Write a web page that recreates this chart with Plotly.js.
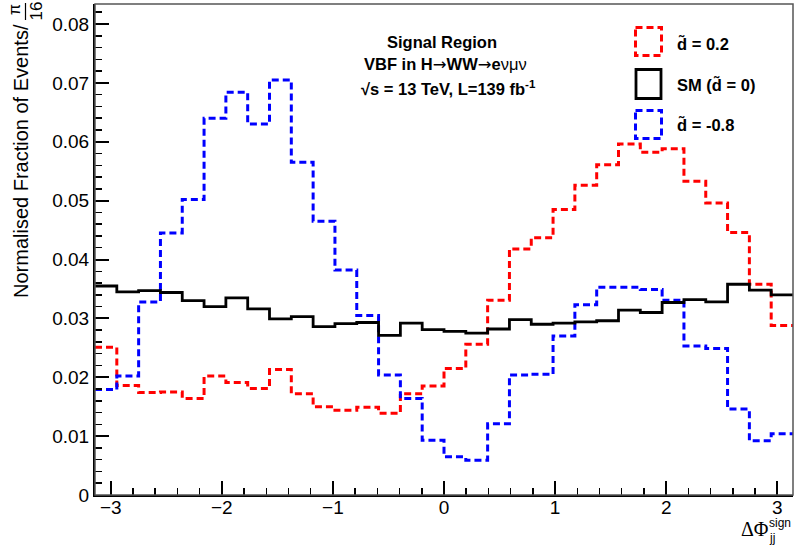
<!DOCTYPE html>
<html>
<head>
<meta charset="utf-8">
<script src="https://cdn.plot.ly/plotly-3.0.1.min.js"></script>
<style>
html,body{margin:0;padding:0;background:#fff;}
#chart{width:795px;height:549px;}
</style>
</head>
<body>
<div id="chart"></div>
<script>
// ---- data (bin contents, 32 bins of width pi/16 from -pi to pi) ----
const nBins = 32;
const smValues = [0.0355,0.0345,0.0347,0.0344,0.0330,0.0320,0.0335,0.0316,0.0299,0.0303,0.0286,0.0291,0.0293,0.0271,0.0292,0.0281,
                  0.0278,0.0275,0.0282,0.0298,0.0290,0.0292,0.0294,0.0296,0.0314,0.0310,0.0327,0.0332,0.0328,0.0358,0.0348,0.0340];
const d02Values = [0.0251,0.0186,0.0174,0.0175,0.0164,0.0202,0.0191,0.0181,0.0213,0.0172,0.0150,0.0144,0.0149,0.0139,0.0172,0.0185,
                   0.0215,0.0256,0.0331,0.0418,0.0437,0.0485,0.0526,0.0561,0.0596,0.0582,0.0588,0.0533,0.0496,0.0446,0.0358,0.0288];
const dm08Values = [0.0179,0.0202,0.0328,0.0445,0.0502,0.0640,0.0684,0.0630,0.0705,0.0565,0.0465,0.0382,0.0305,0.0204,0.0164,0.0093,
                    0.0065,0.0059,0.0121,0.0204,0.0205,0.0270,0.0323,0.0353,0.0353,0.0349,0.0331,0.0253,0.0249,0.0146,0.0092,0.0104];
const xTickVals = [-3,-2,-1,0,1,2,3];
const yTickVals = [0,0.01,0.02,0.03,0.04,0.05,0.06,0.07,0.08];
const legendLabels = ["<b>d\u0303 = 0.2</b>", "<b>SM (d\u0303 = 0)</b>", "<b>d\u0303 = -0.8</b>"];
const ARROW = "<span style=\"font-family:'DejaVu Sans'\">\u2192</span>";
const infoLines = ["<b>Signal Region</b>",
                   "<b>VBF in H</b>" + ARROW + "<b>WW</b>" + ARROW + "<b>e</b>\u03bd\u03bc\u03bd",
                   "<b>\u221as = 13 TeV, L=139 fb<sup>-1</sup></b>"];

// bin edges
const edges = [];
for (let k = 0; k <= nBins; k++) edges.push(-Math.PI + k * Math.PI / 16);
function stepY(v){ return v.concat([v[v.length-1]]); }

// pixel -> paper helpers (plot area: x 95..793, y 4..495)
const L = 95, R = 793, T = 4, B = 495;
const px = v => (v - L) / (R - L);
const py = v => (B - v) / (B - T);

const FONT = "Liberation Sans, Arial, Helvetica, sans-serif";

const traces = [
  {x: edges, y: stepY(d02Values), mode: "lines", line: {shape: "hv", color: "#ff0000", width: 3, dash: "7px,4px"}, hoverinfo: "skip", showlegend: false},
  {x: edges, y: stepY(dm08Values), mode: "lines", line: {shape: "hv", color: "#0000ff", width: 3, dash: "7px,4px"}, hoverinfo: "skip", showlegend: false},
  {x: edges, y: stepY(smValues), mode: "lines", line: {shape: "hv", color: "#000000", width: 2.8}, hoverinfo: "skip", showlegend: false}
];

const ann = [];
function addAnn(text, x, y, opts){
  ann.push(Object.assign({text: text, xref: "paper", yref: "paper", x: px(x), y: py(y), showarrow: false,
    xanchor: "center", yanchor: "middle", font: {family: FONT, size: 16.5, color: "#000"}}, opts || {}));
}
// y-axis title
addAnn("Normalised Fraction of Events/", 21, 161, {textangle: -90, font: {family: FONT, size: 20, color: "#000"}});
addAnn("\u03c0", 15, 10, {textangle: -90, font: {family: FONT, size: 16, color: "#000"}});
addAnn("16", 35.5, 11, {textangle: -90, font: {family: FONT, size: 17, color: "#000"}});
// x-axis title
addAnn("\u0394\u03a6", 755, 529, {font: {family: "Liberation Serif, Times New Roman, serif", size: 20, color: "#000"}});
addAnn("sign", 779.5, 523, {font: {family: FONT, size: 12, color: "#000"}});
addAnn("jj", 772, 538, {font: {family: FONT, size: 12, color: "#000"}});
// info text
addAnn(infoLines[0], 442, 42);
addAnn(infoLines[1], 445, 65);
addAnn(infoLines[2], 448, 88);
// legend text
addAnn(legendLabels[0], 675, 43, {xanchor: "left"});
addAnn(legendLabels[1], 675, 85, {xanchor: "left"});
addAnn(legendLabels[2], 675, 124, {xanchor: "left"});

const shapes = [
  // frame
  {type: "rect", xref: "paper", yref: "paper", x0: 0, x1: 1, y0: 0, y1: 1, line: {color: "#555", width: 1.5}},
  // fraction bar in y title
  {type: "line", xref: "paper", yref: "paper", x0: px(25.5), x1: px(25.5), y0: py(3), y1: py(20), line: {color: "#000", width: 1.2}},
  // legend boxes
  {type: "rect", xref: "paper", yref: "paper", x0: px(635.5), x1: px(661.5), y0: py(27.5), y1: py(55.5), line: {color: "#ff0000", width: 3, dash: "7px,4px"}},
  {type: "rect", xref: "paper", yref: "paper", x0: px(636), x1: px(661), y0: py(69.5), y1: py(98.5), line: {color: "#000000", width: 2.8}},
  {type: "rect", xref: "paper", yref: "paper", x0: px(635.5), x1: px(661.5), y0: py(110.5), y1: py(138.5), line: {color: "#0000ff", width: 3, dash: "7px,4px"}}
];

const axisCommon = {
  showgrid: false, zeroline: false, showline: true, linecolor: "#000", linewidth: 2,
  ticks: "inside", tickcolor: "#000", tickwidth: 2, ticklen: 14,
  tickfont: {family: FONT, size: 19, color: "#000"}
};

const layout = {
  width: 795, height: 549,
  margin: {l: L, r: 795 - R, t: T, b: 549 - B},
  paper_bgcolor: "#fff", plot_bgcolor: "#fff",
  showlegend: false,
  xaxis: Object.assign({}, axisCommon, {
    range: [-Math.PI, Math.PI], tickmode: "array", tickvals: xTickVals,
    ticktext: xTickVals.map(v => v < 0 ? "\u2212" + Math.abs(v) : String(v)),
    ticklabelstandoff: -6,
    minor: {ticks: "inside", dtick: 0.2, tick0: 0, ticklen: 7, tickwidth: 1.5, tickcolor: "#000", showgrid: false}
  }),
  yaxis: Object.assign({}, axisCommon, {
    range: [0, 0.0834], tickmode: "array", tickvals: yTickVals,
    ticktext: yTickVals.map(v => v === 0 ? "0" : v.toFixed(2)),
    minor: {ticks: "inside", dtick: 0.002, tick0: 0, ticklen: 7, tickwidth: 1.5, tickcolor: "#000", showgrid: false}
  }),
  annotations: ann,
  shapes: shapes
};

Plotly.newPlot("chart", traces, layout, {displayModeBar: false, staticPlot: true});
</script>
</body>
</html>
